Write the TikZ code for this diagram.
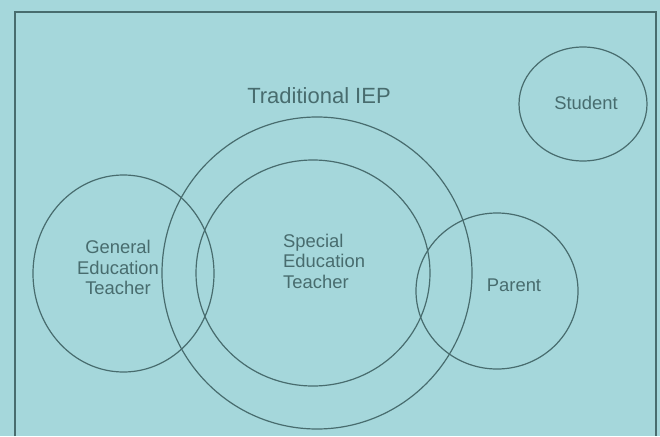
\documentclass[tikz,border=0pt]{standalone}
\usepackage{fontspec}
\setmainfont{Liberation Sans}
\usetikzlibrary{shapes.geometric}
\definecolor{bgc}{RGB}{165,215,219}
\definecolor{inkc}{RGB}{72,108,110}
\begin{document}
\begin{tikzpicture}[x=1pt,y=-1pt,
  ring/.style={ellipse,draw=inkc,line width=1.2pt,inner sep=0pt},
  lbl/.style={text=inkc,inner sep=0pt,font=\fontsize{18.4}{20.5}\selectfont},
  biglbl/.style={text=inkc,inner sep=0pt,font=\fontsize{22}{26}\selectfont}]
\fill[bgc] (0,0) rectangle (660,436);
\useasboundingbox (0,0) rectangle (660,436);
\draw[inkc,line width=1.3pt] (15,436) -- (15,12) -- (656,12) -- (656,436);
% circles
\node[ring,minimum width=310pt,minimum height=312pt] (iep) at (317,273) {};
\node[ring,minimum width=234pt,minimum height=226pt] (set) at (313,273) {};
\node[ring,minimum width=181pt,minimum height=197pt] (get) at (123.5,273.5) {};
\node[ring,minimum width=162pt,minimum height=156pt] (par) at (497,291) {};
\node[ring,minimum width=128pt,minimum height=114pt] (stu) at (583,104) {};
% labels
\node[biglbl,anchor=base] (iepl) at (319,103) {Traditional IEP};
\node[lbl,anchor=base] (stul) at (586,109) {Student};
\node[lbl,anchor=base] (parl) at (514,291) {Parent};
\node[lbl,anchor=north,align=center] (getl) at (118,240) {General\\Education\\Teacher};
\node[lbl,anchor=north west,align=left] (setl) at (283,233.5) {Special\\Education\\Teacher};
\end{tikzpicture}
\end{document}
